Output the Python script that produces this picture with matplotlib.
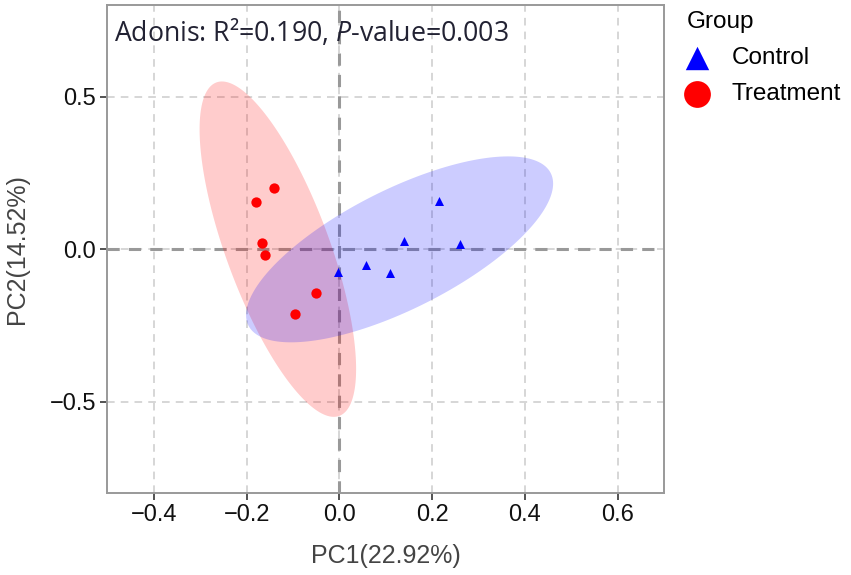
import matplotlib.pyplot as plt
import numpy as np

plt.rcParams['mathtext.fontset'] = 'custom'
plt.rcParams['mathtext.it'] = 'Open Sans:italic'
plt.rcParams['mathtext.rm'] = 'Open Sans'

# PCoA scores
ctrl_x = [-0.002, 0.058, 0.109, 0.139, 0.214, 0.261]
ctrl_y = [-0.075, -0.052, -0.079, 0.026, 0.157, 0.016]
trt_x = [-0.141, -0.180, -0.167, -0.161, -0.051, -0.096]
trt_y = [0.200, 0.154, 0.020, -0.020, -0.144, -0.213]

x_ticks = [-0.4, -0.2, 0.0, 0.2, 0.4, 0.6]
y_ticks = [-0.5, 0.0, 0.5]


def conf_ellipse(x, y, level=0.95, n_pts=200):
    # like ggplot stat_ellipse: radius from F(2, n-1) quantile
    x = np.asarray(x)
    y = np.asarray(y)
    n = len(x)
    cov = np.cov(x, y)
    d2 = n - 1
    f = (d2 / 2) * ((1 - level) ** (-2 / d2) - 1)
    r = np.sqrt(2 * f)
    L = np.linalg.cholesky(cov)
    t = np.linspace(0, 2 * np.pi, n_pts)
    circ = np.vstack([np.cos(t), np.sin(t)])
    pts = L @ circ * r
    return x.mean() + pts[0], y.mean() + pts[1]


fig = plt.figure(figsize=(8.51, 5.75), dpi=100)
ax = fig.add_axes([0.1263, 0.1426, 0.654, 0.8487])

ex, ey = conf_ellipse(trt_x, trt_y)
ax.fill(ex, ey, color='#FF0000', alpha=0.2, lw=0, zorder=2)
ex, ey = conf_ellipse(ctrl_x, ctrl_y)
ax.fill(ex, ey, color='#0000FF', alpha=0.2, lw=0, zorder=2)

ax.axhline(0, color='#999999', lw=2.2, ls=(0, (4, 3)), zorder=1.5)
ax.axvline(0, color='#999999', lw=2.2, ls=(0, (4, 3)), zorder=1.5)

ax.scatter(ctrl_x, ctrl_y, marker='^', s=42, color='#0000FF', lw=0, zorder=3, label='Control')
ax.scatter(trt_x, trt_y, marker='o', s=55, color='#FF0000', lw=0, zorder=3, label='Treatment')

ax.set_xlim(-0.5, 0.7)
ax.set_ylim(-0.8, 0.8)
ax.set_xticks(x_ticks)
ax.set_yticks(y_ticks)
ax.set_xticklabels(['\u22120.4', '\u22120.2', '0.0', '0.2', '0.4', '0.6'])
ax.set_yticklabels(['\u22120.5', '0.0', '0.5'])
ax.grid(True, color='#CCCCCC', lw=1.1, ls=(0, (5, 4)), zorder=0)
ax.set_axisbelow(True)

for s in ax.spines.values():
    s.set_color('#999999')
    s.set_linewidth(1.4)
ax.tick_params(direction='out', length=5, width=1.3, color='#444444',
               labelsize=17, labelcolor='#111111', pad=3)
for lab in ax.get_xticklabels() + ax.get_yticklabels():
    lab.set_family('Liberation Sans')

ax.set_xlabel('PC1(22.92%)', fontsize=18, color='#444444', family='Liberation Sans', labelpad=13)
ax.set_ylabel('PC2(14.52%)', fontsize=18, color='#444444', family='Liberation Sans', labelpad=15)

ax.text(0.011, 0.975, 'Adonis: R\u00b2=0.190, $P$-value=0.003', transform=ax.transAxes,
        fontsize=19.2, color='#222233', family='Open Sans', va='top', ha='left')

leg = ax.legend(title='Group', loc='upper left', bbox_to_anchor=(1.023, 1.008), frameon=False,
                prop={'family': 'Liberation Sans', 'size': 17.5}, markerscale=2.6,
                handletextpad=0.95, borderaxespad=0.0, labelspacing=0.58, handlelength=0.9)
leg.get_title().set_fontsize(17.5)
leg.get_title().set_family('Liberation Sans')
leg._legend_box.align = 'left'

fig.savefig('out.png', dpi=100)
